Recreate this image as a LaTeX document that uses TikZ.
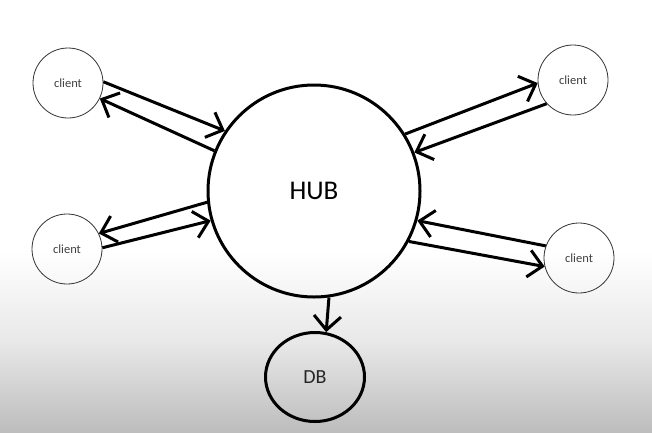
\documentclass[tikz,border=0pt]{standalone}
\usepackage{fontspec}
\setmainfont{Carlito}
\usetikzlibrary{arrows.meta}
\usetikzlibrary{shapes.geometric}

\tikzset{
  client/.style={circle, draw=black!80, line width=0.8pt, minimum size=70pt, inner sep=0pt, text=black!75, font=\fontsize{12.5}{14}\selectfont},
  hub/.style={circle, draw, line width=3pt, minimum size=212pt, font=\fontsize{27}{30}\selectfont},
  store/.style={ellipse, draw, line width=3pt, minimum width=99pt, minimum height=89pt, text=black!85, font=\fontsize{20}{24}\selectfont},
  link/.style={line width=3pt, -{Straight Barb[length=14pt, width=27pt]}},
}

\begin{document}
\begin{tikzpicture}[x=1pt, y=-1pt]
    \fill[white] (0,0) rectangle (652,252);
    \shade[top color=white, bottom color=black!26, middle color=black!9] (0,252) rectangle (652,432);
    \useasboundingbox (0,0) rectangle (652,432);

    \node[hub] (hub) at (314,191) {HUB};
    \node[client] (cTL) at (68,83) {client};
    \node[client] (cBL) at (67,249) {client};
    \node[client] (cTR) at (573,80) {client};
    \node[client] (cBR) at (579,258) {client};
    \node[store] (db) at (315,377) {DB};

    \draw[link] (cTL.2) -- (hub.146);
    \draw[link] (hub.158) -- (cTL.-26);

    \draw[link] (hub.186) -- (cBL.26);
    \draw[link] (cBL.2) -- (hub.196);

    \draw[link] (hub.32) -- (cTR.185);
    \draw[link] (cTR.222) -- (hub.21);

    \draw[link] (cBR.160) -- (hub.-16);
    \draw[link] (hub.-28) -- (cBR.194);

    \draw[link] (hub.-82) -- (db.76);
\end{tikzpicture}
\end{document}
